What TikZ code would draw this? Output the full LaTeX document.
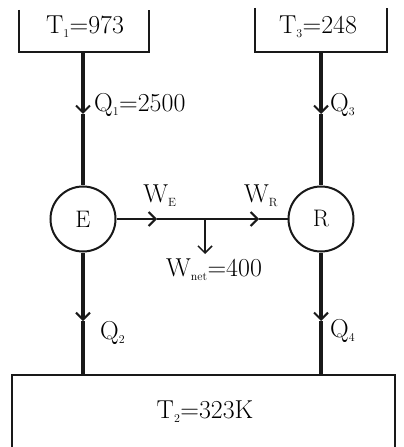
\documentclass[tikz,border=0pt]{standalone}
\usetikzlibrary{arrows.meta}
\begin{document}
\begin{tikzpicture}[x=1bp,y=-1bp,
  box/.style={line width=2bp, draw=black!90},
  flow/.style={line width=3.2bp, draw=black!90},
  tipped/.style={-{Straight Barb[length=7bp,width=14bp,line width=2bp]}},
  hline/.style={line width=2.6bp, draw=black!90},
  eng/.style={circle, draw=black!90, line width=2bp, minimum size=65bp, inner sep=0pt, fill=white, font=\fontsize{24}{28}\selectfont},
  lbl/.style={inner sep=0pt, font=\fontsize{26}{30}\selectfont},
  ]
\useasboundingbox (0,0) rectangle (403,447);
% reservoirs
\draw[box] (19,10) -- (19,52) -- (149,52) -- (149,10);
\draw[box] (255,8) -- (255,52) -- (387,52) -- (387,8);
\draw[box] (12,449) -- (12,375) -- (395,375) -- (395,449);
\node[lbl] (T1) at (85,27) {T$_{\scriptscriptstyle 1}$=973};
\node[lbl] (T3) at (318,27) {T$_{\scriptscriptstyle 3}$=248};
\node[lbl] (T2) at (205,412) {T$_{\scriptscriptstyle 2}$=323K};
% engines
\node[eng] (E) at (83,219) {E};
\node[eng] (R) at (321,219) {R};
% coordinates
\coordinate (t1) at (83,52);
\coordinate (a1) at (83,114);
\coordinate (a2) at (83,321);
\coordinate (b1) at (83,376);
\coordinate (t3) at (321,52);
\coordinate (a3) at (321,114);
\coordinate (a4) at (321,321);
\coordinate (b3) at (321,376);
\coordinate (aE) at (157,219);
\coordinate (j) at (205,219);
\coordinate (aR) at (259,219);
\coordinate (wn) at (205,254);
% flows
\draw[flow,tipped] (t1) -- (a1);
\draw[flow] (a1) -- (E.north);
\draw[flow,tipped] (E.south) -- (a2);
\draw[flow] (a2) -- (b1);
\draw[flow,tipped] (t3) -- (a3);
\draw[flow] (a3) -- (R.north);
\draw[flow,tipped] (R.south) -- (a4);
\draw[flow] (a4) -- (b3);
\draw[hline,tipped] (E.east) -- (aE);
\draw[hline] (aE) -- (j);
\draw[hline,tipped] (j) -- (aR);
\draw[hline] (aR) -- (R.west);
\draw[line width=1.5bp, draw=black!90, -{Straight Barb[length=7bp,width=14bp,line width=1.5bp]}] (j) -- (wn);
% labels
\node[lbl, anchor=west] (Q1) at (94,105) {Q$_{\scriptscriptstyle 1}$=2500};
\node[lbl, anchor=west] (Q3) at (330,105) {Q$_{\scriptscriptstyle 3}$};
\node[lbl, anchor=west] (Q2) at (100,333) {Q$_{\scriptscriptstyle 2}$};
\node[lbl, anchor=west] (Q4) at (330,331) {Q$_{\scriptscriptstyle 4}$};
\node[lbl] (WE) at (160,196) {W$_{\scriptscriptstyle\mathrm{E}}$};
\node[lbl] (WR) at (261,196) {W$_{\scriptscriptstyle\mathrm{R}}$};
\node[lbl] (Wn) at (214,270) {W$_{\scriptscriptstyle\mathrm{net}}$=400};
\end{tikzpicture}
\end{document}
